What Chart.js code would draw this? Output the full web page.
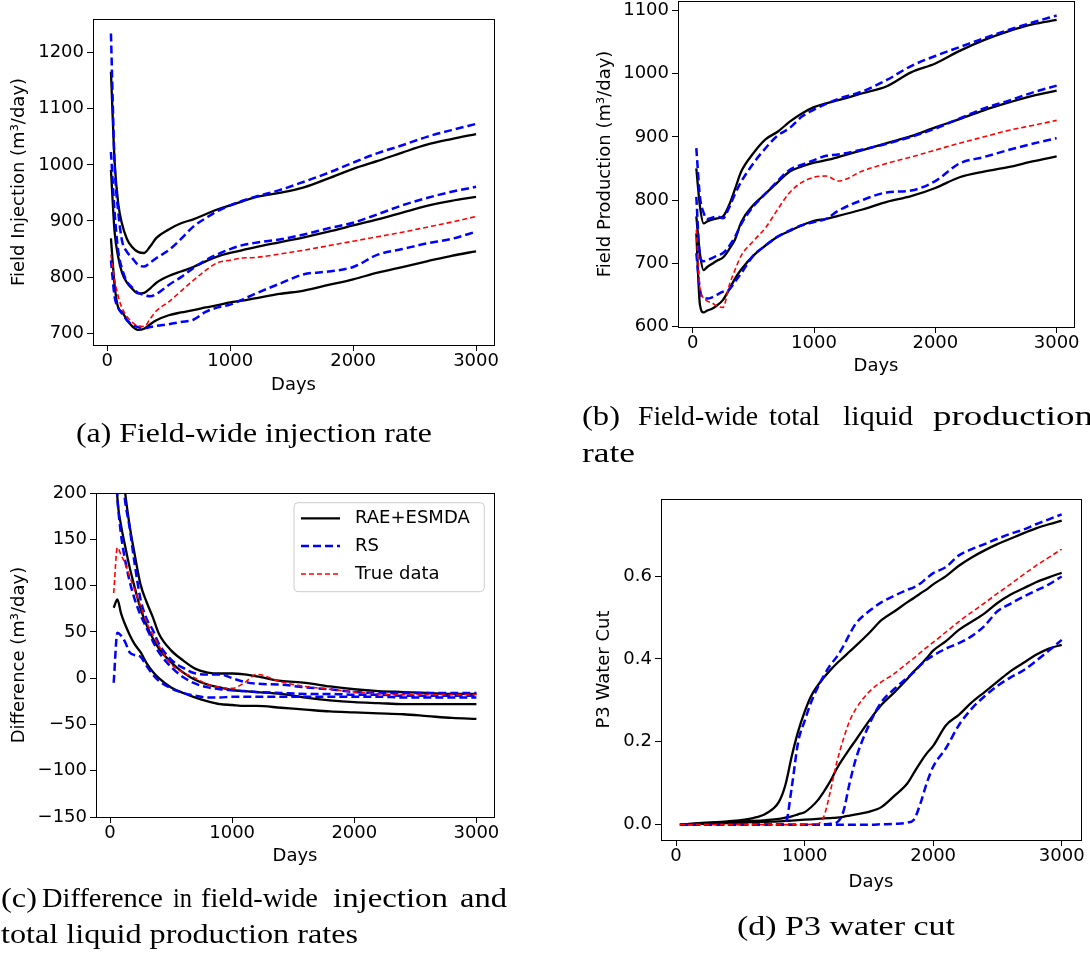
<!DOCTYPE html>
<html><head><meta charset="utf-8">
<script src="https://cdn.jsdelivr.net/npm/chart.js@4.4.0/dist/chart.umd.min.js"></script>
<style>
html,body{margin:0;padding:0;background:#fff;width:1090px;height:955px;overflow:hidden;position:relative}
canvas{position:absolute}
svg{position:absolute;left:0;top:0}
.cap{font-family:"Liberation Serif","Times New Roman",serif;font-size:28px;fill:#000}
</style></head><body>
<canvas id="ca"></canvas>
<canvas id="cb"></canvas>
<canvas id="cc"></canvas>
<canvas id="cd"></canvas>
<svg width="1090" height="955">
<text class="cap" x="76" y="442" textLength="356" lengthAdjust="spacingAndGlyphs">(a) Field-wide injection rate</text>
<text class="cap" x="582" y="425" textLength="38" lengthAdjust="spacingAndGlyphs">(b)</text>
<text class="cap" x="638" y="425" textLength="120" lengthAdjust="spacingAndGlyphs">Field-wide</text>
<text class="cap" x="769" y="425" textLength="51" lengthAdjust="spacingAndGlyphs">total</text>
<text class="cap" x="843" y="425" textLength="70" lengthAdjust="spacingAndGlyphs">liquid</text>
<text class="cap" x="933" y="425" textLength="160" lengthAdjust="spacingAndGlyphs">production</text>
<text class="cap" x="582" y="462" textLength="53" lengthAdjust="spacingAndGlyphs">rate</text>
<text class="cap" x="1" y="907" textLength="36" lengthAdjust="spacingAndGlyphs">(c)</text>
<text class="cap" x="42" y="907" textLength="121" lengthAdjust="spacingAndGlyphs">Difference</text>
<text class="cap" x="173" y="907" textLength="19" lengthAdjust="spacingAndGlyphs">in</text>
<text class="cap" x="201" y="907" textLength="117" lengthAdjust="spacingAndGlyphs">field-wide</text>
<text class="cap" x="333" y="907" textLength="115" lengthAdjust="spacingAndGlyphs">injection</text>
<text class="cap" x="460" y="907" textLength="47" lengthAdjust="spacingAndGlyphs">and</text>
<text class="cap" x="1" y="943" textLength="357" lengthAdjust="spacingAndGlyphs">total liquid production rates</text>
<text class="cap" x="737" y="935" textLength="218" lengthAdjust="spacingAndGlyphs">(d) P3 water cut</text>
</svg>
<script>
// ---------- DATA ----------
const days = [30, 60, 90, 120, 160, 200, 250, 300, 350, 400, 500, 600, 700, 800, 900, 1000, 1100, 1200, 1400, 1600, 1800, 2000, 2200, 2400, 2600, 2800, 3000];
const xTickValues = [0, 1000, 2000, 3000];

// (a) Field injection
const injRaeHigh = [1166, 1005, 930, 895, 868, 854, 845, 843, 855, 870, 885, 896, 903, 912, 921, 928, 935, 942, 950, 960, 976, 993, 1007, 1022, 1036, 1046, 1055];
const injRaeMid  = [991, 880, 835, 808, 790, 780, 771, 772, 780, 790, 802, 810, 818, 828, 837, 843, 848, 853, 862, 871, 881, 892, 903, 915, 927, 936, 943];
const injRaeLow  = [869, 785, 745, 738, 724, 713, 706, 708, 716, 723, 732, 737, 741, 746, 750, 755, 758, 762, 770, 776, 786, 796, 808, 818, 828, 838, 846];
const injRsHigh  = [1234, 1000, 915, 865, 845, 835, 822, 819, 826, 834, 848, 868, 890, 905, 918, 928, 936, 943, 955, 970, 986, 1004, 1021, 1035, 1050, 1062, 1073];
const injRsMid   = [1023, 915, 845, 815, 792, 782, 772, 768, 766, 770, 786, 800, 816, 830, 841, 850, 857, 861, 867, 876, 887, 897, 912, 928, 941, 952, 961];
const injRsLow   = [830, 765, 745, 735, 723, 716, 711, 709, 711, 713, 716, 720, 724, 738, 746, 751, 760, 770, 788, 805, 810, 818, 840, 850, 860, 868, 881];
const injTrue    = [840, 795, 765, 745, 730, 720, 713, 712, 726, 740, 756, 775, 794, 812, 826, 830, 834, 835, 841, 848, 856, 864, 872, 880, 889, 898, 908];
const injYTicks  = [700, 800, 900, 1000, 1100, 1200];

// (b) Field production
const prodRaeHigh = [850, 790, 763, 766, 769, 771, 774, 792, 818, 845, 874, 896, 908, 924, 937, 947, 953, 958, 969, 980, 1002, 1016, 1036, 1053, 1067, 1078, 1085];
const prodRaeMid  = [774, 715, 689, 694, 699, 704, 709, 722, 738, 765, 792, 810, 828, 845, 853, 859, 863, 868, 879, 890, 901, 915, 928, 942, 954, 965, 973];
const prodRaeLow  = [747, 634, 622, 625, 628, 633, 642, 658, 676, 690, 712, 728, 742, 751, 760, 767, 770, 775, 785, 797, 806, 819, 836, 845, 852, 861, 869];
const prodRsHigh  = [882, 805, 780, 770, 772, 774, 771, 788, 810, 829, 858, 882, 902, 914, 932, 943, 952, 960, 972, 990, 1012, 1028, 1042, 1056, 1069, 1081, 1092];
const prodRsMid   = [805, 710, 703, 705, 708, 712, 716, 727, 742, 762, 790, 810, 830, 848, 856, 863, 870, 872, 880, 889, 900, 913, 929, 945, 957, 970, 981];
const prodRsLow   = [716, 658, 645, 644, 646, 650, 655, 658, 671, 684, 712, 728, 742, 752, 760, 765, 770, 783, 800, 812, 815, 830, 858, 868, 879, 889, 898];
const prodTrue    = [753, 660, 645, 640, 637, 632, 630, 664, 690, 712, 735, 756, 785, 812, 828, 836, 838, 830, 846, 858, 868, 879, 890, 900, 910, 918, 926];
const prodYTicks  = [600, 700, 800, 900, 1000, 1100];

// (c) Difference
const diffRaeHigh = [330, 290, 250, 205, 165, 135, 101, 82, 66, 48, 30, 19, 10, 6, 5, 5, 4, 2, -3, -5, -9, -12, -14, -15, -16, -17, -17];
const diffRaeMid  = [280, 195, 165, 145, 120, 99, 75, 57, 43, 32, 17, 6, -2, -7, -10, -13, -14, -15, -17, -21, -24, -26, -27, -28, -28, -28, -28];
const diffRaeLow  = [76, 85, 70, 59, 47, 37, 28, 16, 7, 0, -10, -16, -21, -25, -28, -29, -30, -30, -32, -34, -36, -37, -38, -39, -41, -43, -44];
const diffRsHigh  = [350, 290, 240, 195, 163, 125, 85, 64, 52, 37, 20, 11, 5, 4, 4, 0, -4, -6, -7, -10, -12, -15, -16, -16, -16, -16, -16];
const diffRsMid   = [270, 195, 155, 130, 105, 86, 68, 54, 40, 28, 12, 1, -6, -10, -12, -13, -14, -15, -16, -17, -17, -18, -18, -19, -19, -19, -19];
const diffRsLow   = [-5, 49, 46, 40, 28, 25, 23, 13, 4, -3, -11, -16, -19, -21, -21, -20, -20, -20, -20, -20, -20, -20, -20, -21, -21, -21, -21];
const diffTrue    = [92, 141, 133, 125, 110, 96, 78, 60, 47, 35, 15, 6, 0, -7, -10, -11, -5, 4, -4, -9, -12, -15, -17, -18, -18, -18, -18];
const diffYTicks  = [-150, -100, -50, 0, 50, 100, 150, 200];

// (d) P3 water cut
const wcDays     = [30, 200, 400, 600, 700, 800, 850, 900, 950, 1000, 1050, 1100, 1150, 1200, 1250, 1300, 1350, 1400, 1500, 1600, 1700, 1800, 1850, 1900, 1950, 2000, 2100, 2200, 2300, 2400, 2500, 2600, 2700, 2800, 2900, 3000];
const wcRaeHigh  = [0, 0.004, 0.008, 0.016, 0.027, 0.055, 0.095, 0.165, 0.225, 0.272, 0.31, 0.335, 0.355, 0.373, 0.389, 0.403, 0.418, 0.432, 0.462, 0.494, 0.515, 0.537, 0.547, 0.558, 0.568, 0.58, 0.6, 0.625, 0.645, 0.662, 0.677, 0.69, 0.703, 0.715, 0.725, 0.734];
const wcRaeMid   = [0, 0.003, 0.006, 0.009, 0.011, 0.014, 0.017, 0.02, 0.025, 0.03, 0.042, 0.058, 0.08, 0.105, 0.135, 0.16, 0.183, 0.205, 0.25, 0.29, 0.32, 0.352, 0.37, 0.385, 0.402, 0.42, 0.443, 0.47, 0.49, 0.51, 0.535, 0.555, 0.57, 0.585, 0.597, 0.608];
const wcRaeLow   = [0, 0.002, 0.004, 0.006, 0.007, 0.008, 0.009, 0.01, 0.011, 0.012, 0.013, 0.014, 0.015, 0.016, 0.017, 0.019, 0.022, 0.025, 0.031, 0.043, 0.07, 0.1, 0.125, 0.15, 0.172, 0.19, 0.24, 0.265, 0.295, 0.32, 0.345, 0.37, 0.39, 0.41, 0.425, 0.434];
const wcRsHigh   = [0, 0, 0, 0, 0, 0, 0.002, 0.09, 0.2, 0.25, 0.295, 0.33, 0.36, 0.385, 0.405, 0.43, 0.46, 0.486, 0.515, 0.537, 0.553, 0.567, 0.573, 0.582, 0.595, 0.607, 0.622, 0.65, 0.665, 0.677, 0.69, 0.702, 0.712, 0.725, 0.737, 0.749];
const wcRsMid    = [0, 0, 0, 0, 0, 0, 0, 0, 0, 0, 0, 0, 0.001, 0.002, 0.005, 0.03, 0.1, 0.16, 0.24, 0.297, 0.328, 0.355, 0.368, 0.385, 0.398, 0.408, 0.425, 0.438, 0.455, 0.48, 0.515, 0.533, 0.55, 0.565, 0.58, 0.599];
const wcRsLow    = [0, 0, 0, 0, 0, 0, 0, 0, 0, 0, 0, 0, 0, 0, 0, 0, 0, 0, 0, 0.001, 0.002, 0.005, 0.012, 0.05, 0.1, 0.14, 0.185, 0.24, 0.28, 0.31, 0.335, 0.355, 0.372, 0.395, 0.42, 0.446];
const wcTrue     = [0, 0, 0, 0, 0, 0, 0, 0, 0, 0, 0.001, 0.002, 0.02, 0.08, 0.15, 0.205, 0.25, 0.28, 0.32, 0.345, 0.365, 0.39, 0.402, 0.415, 0.428, 0.44, 0.465, 0.49, 0.513, 0.535, 0.558, 0.58, 0.603, 0.625, 0.645, 0.665];
const wcYTicks   = [0, 0.2, 0.4, 0.6];

const legendLabels = ['RAE+ESMDA', 'RS', 'True data'];

// ---------- STYLES ----------
const FONT = "'DejaVu Sans', sans-serif";
const FSIZE = 18;
Chart.defaults.font.family = FONT;
Chart.defaults.font.size = FSIZE;
Chart.defaults.color = '#000';
const styleRae = {borderColor: '#000000', borderWidth: 2.3, borderDash: [], order: 2};
const styleRs = {borderColor: '#0000ff', borderWidth: 2.5, borderDash: [8, 4], order: 1};
const styleTrue = {borderColor: '#ff0000', borderWidth: 1.6, borderDash: [5, 3], order: 0};

function pts(xs, ys) { return xs.map((x, i) => ({x: x, y: ys[i]})); }
function ds(xs, ys, st) {
  return Object.assign({data: pts(xs, ys), pointRadius: 0, fill: false, cubicInterpolationMode: 'monotone', borderCapStyle: 'butt'}, st);
}

const frame = {
  id: 'frame',
  afterDraw(chart) {
    const {ctx, chartArea: a} = chart;
    ctx.save();
    ctx.strokeStyle = '#000';
    ctx.lineWidth = 1;
    ctx.strokeRect(Math.round(a.left) + 0.5, Math.round(a.top) + 0.5, Math.round(a.right - a.left), Math.round(a.bottom - a.top));
    ctx.restore();
  }
};

function panel(id, cfg) {
  const CL = cfg.CL, CT = cfg.T - 14;
  const W = cfg.R - CL + 16, H = cfg.B - CT + 58;
  const cv = document.getElementById(id);
  cv.width = W; cv.height = H;
  cv.style.left = CL + 'px'; cv.style.top = CT + 'px';
  cv.style.width = W + 'px'; cv.style.height = H + 'px';
  const yw = cfg.L - CL;
  const plugins = [frame];
  if (cfg.legend) plugins.push(cfg.legend(CL, CT));
  const tickFont = {family: FONT, size: FSIZE, lineHeight: 1.2};
  return new Chart(cv, {
    type: 'line',
    data: {datasets: cfg.datasets},
    plugins: plugins,
    options: {
      responsive: false, animation: false, devicePixelRatio: 1,
      layout: {padding: {left: 0, top: 14, right: 16, bottom: 0}},
      plugins: {legend: {display: false}, tooltip: {enabled: false}},
      scales: {
        x: {
          type: 'linear', position: 'bottom', min: cfg.xmin, max: cfg.xmax,
          afterBuildTicks: s => { s.ticks = xTickValues.map(v => ({value: v})); },
          afterFit: s => { s.height = 58; },
          grid: {display: true, drawOnChartArea: false, drawTicks: true, tickLength: 6, tickColor: '#000', tickWidth: 1},
          border: {display: true, color: '#000', width: 1},
          ticks: {padding: 0, color: '#000', font: tickFont, maxRotation: 0, minRotation: 0, autoSkip: false, callback: v => String(v)},
          title: {display: true, text: 'Days', color: '#000', font: {family: FONT, size: FSIZE}, padding: {top: 0, bottom: cfg.xpb}}
        },
        y: {
          type: 'linear', position: 'left', min: cfg.ymin, max: cfg.ymax,
          afterBuildTicks: s => { s.ticks = cfg.yticks.map(v => ({value: v})); },
          afterFit: s => { s.width = yw; },
          grid: {display: true, drawOnChartArea: false, drawTicks: true, tickLength: 6, tickColor: '#000', tickWidth: 1},
          border: {display: true, color: '#000', width: 1},
          ticks: {padding: 3, color: '#000', font: tickFont, autoSkip: false, callback: cfg.yfmt || (v => String(v).replace('-', '\u2212'))},
          title: {display: true, text: cfg.ytitle, color: '#000', font: {family: FONT, size: FSIZE}, padding: {top: cfg.ypt, bottom: 0}}
        }
      }
    }
  });
}

function six(xs, r1, r2, r3, s1, s2, s3, t) {
  return [ds(xs, r1, styleRae), ds(xs, r2, styleRae), ds(xs, r3, styleRae),
          ds(xs, s1, styleRs), ds(xs, s2, styleRs), ds(xs, s3, styleRs),
          ds(xs, t, styleTrue)];
}

panel('ca', {CL: 0, L: 93, T: 19, R: 494, B: 345, xmin: -116, xmax: 3146, ymin: 679, ymax: 1260, yticks: injYTicks,
  ytitle: 'Field Injection (m\u00b3/day)', ypt: 8.5, xpb: 7.2,
  datasets: six(days, injRaeHigh, injRaeMid, injRaeLow, injRsHigh, injRsMid, injRsLow, injTrue)});

panel('cb', {CL: 585, L: 678, T: 1, R: 1074, B: 327, xmin: -121, xmax: 3143, ymin: 599, ymax: 1115, yticks: prodYTicks,
  ytitle: 'Field Production (m\u00b3/day)', ypt: 9.5, xpb: 7.5,
  datasets: six(days, prodRaeHigh, prodRaeMid, prodRaeLow, prodRsHigh, prodRsMid, prodRsLow, prodTrue)});

const legendPlugin = (CL, CT) => ({
  id: 'boxLegend',
  afterDraw(chart) {
    const ctx = chart.ctx;
    const bx = 294 - CL, by = 502.7 - CT, bw = 190.3, bh = 89;
    ctx.save();
    ctx.beginPath();
    if (ctx.roundRect) ctx.roundRect(bx, by, bw, bh, 4); else ctx.rect(bx, by, bw, bh);
    ctx.fillStyle = 'rgba(255,255,255,0.8)';
    ctx.fill();
    ctx.strokeStyle = '#cccccc';
    ctx.lineWidth = 1;
    ctx.stroke();
    const rows = [518.3, 546, 574];
    const sts = [styleRae, styleRs, styleTrue];
    rows.forEach((py, i) => {
      const y = py - CT;
      ctx.beginPath();
      ctx.setLineDash(sts[i].borderDash);
      ctx.strokeStyle = sts[i].borderColor;
      ctx.lineWidth = sts[i].borderWidth;
      ctx.moveTo(301 - CL, y); ctx.lineTo(340 - CL, y);
      ctx.stroke();
      ctx.setLineDash([]);
      ctx.fillStyle = '#000';
      ctx.font = FSIZE + 'px ' + FONT;
      ctx.textBaseline = 'middle';
      ctx.textAlign = 'left';
      ctx.fillText(legendLabels[i], 355 - CL, y);
    });
    ctx.restore();
  }
});

panel('cc', {CL: 0, L: 96, T: 493, R: 494, B: 817, xmin: -115, xmax: 3144, ymin: -150, ymax: 200, yticks: diffYTicks,
  ytitle: 'Difference (m\u00b3/day)', ypt: 8.2, xpb: 7.5, legend: legendPlugin,
  datasets: six(days, diffRaeHigh, diffRaeMid, diffRaeLow, diffRsHigh, diffRsMid, diffRsLow, diffTrue)});

panel('cd', {CL: 570, L: 661, T: 499, R: 1081, B: 840, xmin: -117, xmax: 3150, ymin: -0.037, ymax: 0.786, yticks: wcYTicks,
  ytitle: 'P3 Water Cut', ypt: 23.2, xpb: 4.5, yfmt: v => Number(v).toFixed(1),
  datasets: six(wcDays, wcRaeHigh, wcRaeMid, wcRaeLow, wcRsHigh, wcRsMid, wcRsLow, wcTrue)});
</script>
</body></html>
